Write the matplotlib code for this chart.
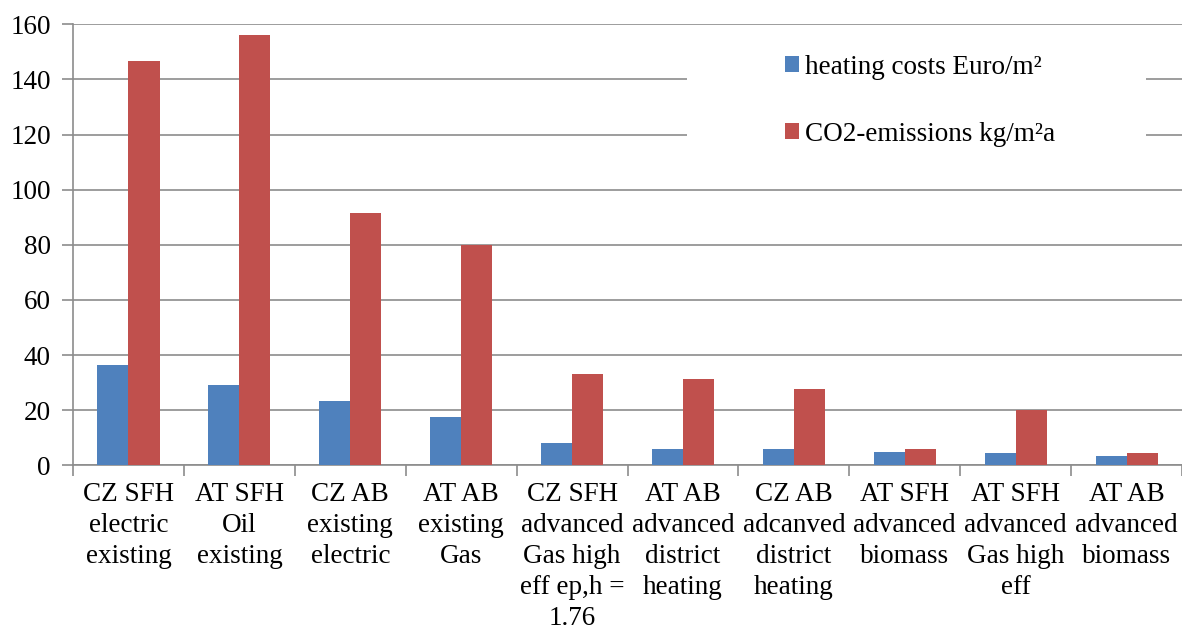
import numpy as np
import matplotlib.pyplot as plt
from matplotlib.patches import Rectangle

plt.rcParams['font.family'] = 'Liberation Serif'

categories = [
    "CZ SFH\nelectric\nexisting",
    "AT SFH\nOil\nexisting",
    "CZ AB\nexisting\nelectric",
    "AT AB\nexisting\nGas",
    "CZ SFH\nadvanced\nGas high\neff ep,h =\n1.76",
    "AT AB\nadvanced\ndistrict\nheating",
    "CZ AB\nadcanved\ndistrict\nheating",
    "AT SFH\nadvanced\nbiomass",
    "AT SFH\nadvanced\nGas high\neff",
    "AT AB\nadvanced\nbiomass",
]
heating_costs = [36.4, 29.0, 23.5, 17.5, 8.1, 5.8, 5.8, 4.8, 4.4, 3.5]
co2_emissions = [146.6, 156.0, 91.4, 80.1, 33.1, 31.3, 27.7, 5.8, 20.2, 4.4]

grid_color = '#8c8c8c'
blue = '#4f81bd'
red = '#c0504d'
fs = 19.5

fig = plt.figure(figsize=(11.82, 6.30), dpi=100)
ax = fig.add_axes([0.0618, 0.2614, 0.9382, 0.70])

x = np.arange(len(categories))
w = 0.28
ax.bar(x - w / 2, heating_costs, w, color=blue, label='heating costs Euro/m²', zorder=3)
ax.bar(x + w / 2, co2_emissions, w, color=red, label='CO2-emissions kg/m²a', zorder=3)

ax.set_xlim(-0.5, len(categories) - 0.5)
ax.set_ylim(0, 160)
ax.set_yticks(np.arange(0, 161, 20))
ax.yaxis.grid(True, color=grid_color, linewidth=1.2)
ax.set_axisbelow(True)

# ticks between the groups, labels under the group centres
ax.set_xticks(np.arange(len(categories) + 1) - 0.5)
ax.set_xticklabels([])
ax.set_xticks(x, minor=True)
ax.set_xticklabels(categories, minor=True, fontsize=fs, linespacing=1.32)
ax.tick_params(axis='x', which='major', length=8, width=1.2, color=grid_color, direction='out')
ax.tick_params(axis='x', which='minor', length=0, pad=12)
ax.tick_params(axis='y', length=8, width=1.2, color=grid_color, labelsize=fs, pad=8)

for s in ['top', 'right']:
    ax.spines[s].set_visible(False)
for s in ['left', 'bottom']:
    ax.spines[s].set_color(grid_color)
    ax.spines[s].set_linewidth(1.2)

# white block behind the legend hides the grid there
ax.add_patch(Rectangle((0.5537, 0.66), 0.414, 0.31, transform=ax.transAxes,
                       facecolor='white', edgecolor='none', zorder=2))
ax.legend(loc='center left', bbox_to_anchor=(0.642, 0.827), frameon=False,
          fontsize=fs, handlelength=0.5, handleheight=0.5, handletextpad=0.25,
          labelspacing=1.55, borderpad=0, borderaxespad=0)

plt.savefig('out.png', dpi=100)
